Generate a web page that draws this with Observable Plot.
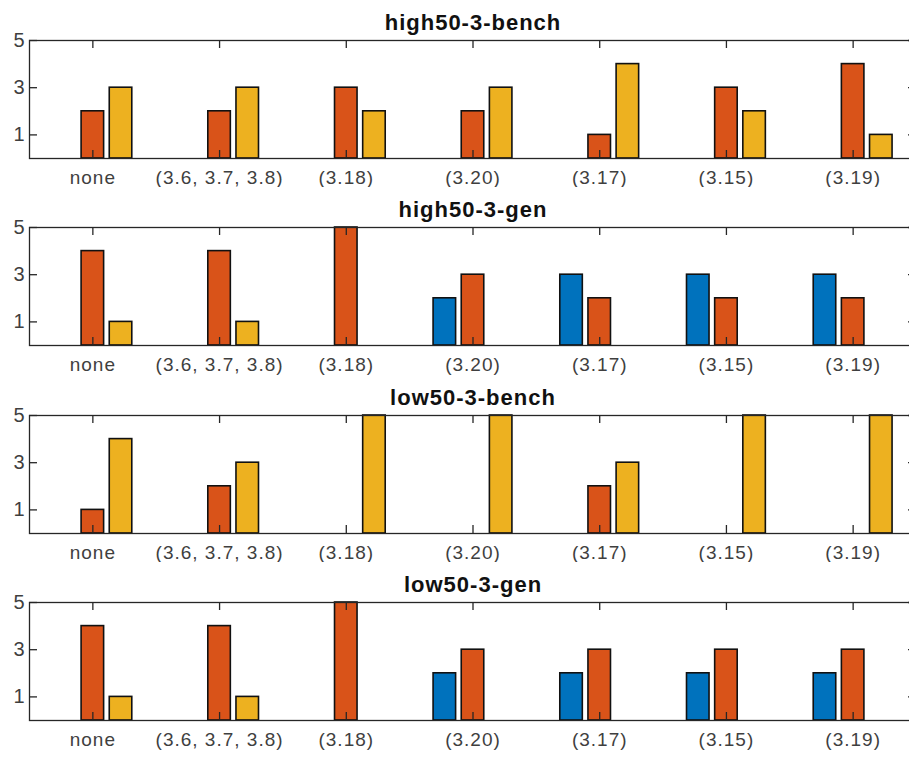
<!DOCTYPE html>
<html>
<head>
<meta charset="utf-8">
<script src="https://cdn.jsdelivr.net/npm/d3@7"></script>
<script src="https://cdn.jsdelivr.net/npm/@observablehq/plot@0.6"></script>
<style>
  html, body { margin: 0; background: #fff; overflow: hidden; }
  #wrap { position: relative; width: 909px; height: 757px; overflow: hidden; background: #fff; }
  .panel { position: absolute; left: 0; width: 925px; }
  .panel svg { max-width: none !important; width: 925px; height: 188px; }
  .panel svg text { letter-spacing: 1px; }
</style>
</head>
<body>
<div id="wrap"></div>
<script>
// ---- data ----
const categories = ["none", "(3.6, 3.7, 3.8)", "(3.18)", "(3.20)", "(3.17)", "(3.15)", "(3.19)"];
const seriesNames = ["series1", "series2", "series3"];
const seriesColors = ["#0072BD", "#D95319", "#EDB120"];
const panelTitles = ["high50-3-bench", "high50-3-gen", "low50-3-bench", "low50-3-gen"];
const yTicks = [1, 3, 5];

const high50BenchS1 = [0, 0, 0, 0, 0, 0, 0];
const high50BenchS2 = [2, 2, 3, 2, 1, 3, 4];
const high50BenchS3 = [3, 3, 2, 3, 4, 2, 1];

const high50GenS1 = [0, 0, 0, 2, 3, 3, 3];
const high50GenS2 = [4, 4, 5, 3, 2, 2, 2];
const high50GenS3 = [1, 1, 0, 0, 0, 0, 0];

const low50BenchS1 = [0, 0, 0, 0, 0, 0, 0];
const low50BenchS2 = [1, 2, 0, 0, 2, 0, 0];
const low50BenchS3 = [4, 3, 5, 5, 3, 5, 5];

const low50GenS1 = [0, 0, 0, 2, 2, 2, 2];
const low50GenS2 = [4, 4, 5, 3, 3, 3, 3];
const low50GenS3 = [1, 1, 0, 0, 0, 0, 0];

const panels = [
  [high50BenchS1, high50BenchS2, high50BenchS3],
  [high50GenS1, high50GenS2, high50GenS3],
  [low50BenchS1, low50BenchS2, low50BenchS3],
  [low50GenS1, low50GenS2, low50GenS3]
];

// ---- layout (MATLAB grouped bar geometry) ----
const nSeries = 3;
const groupWidth = Math.min(0.8, nSeries / (nSeries + 1.5));
const barW = 0.8 * groupWidth / nSeries;
const panelStep = 187.4;
const xPositions = categories.map((_, i) => i + 1);

const W = 925, H = 188, mT = 40, mB = 30, mL = 29, mR = 9;
const frameW = W - mL - mR, frameH = H - mT - mB, tickLen = 8;

const wrap = document.getElementById("wrap");

panels.forEach((seriesArrays, p) => {
  const rows = [];
  seriesArrays.forEach((vals, s) => {
    vals.forEach((v, i) => {
      if (v > 0) {
        const center = i + 1 + (s - (nSeries - 1) / 2) * groupWidth / nSeries;
        rows.push({series: seriesNames[s], cat: categories[i], x1: center - barW / 2, x2: center + barW / 2, v});
      }
    });
  });

  const tickStyle = {stroke: "#262626", strokeWidth: 1.3};
  const chart = Plot.plot({
    width: W,
    height: H,
    marginTop: mT,
    marginBottom: mB,
    marginLeft: mL,
    marginRight: mR,
    x: {domain: [0.5, 7.5], label: null},
    y: {domain: [0, 5], label: null},
    color: {domain: seriesNames, range: seriesColors},
    style: {fontFamily: "'Liberation Sans', Arial, Helvetica, sans-serif", fontSize: "19px", color: "#3f3f3f", background: "#fff", overflow: "visible"},
    marks: [
      Plot.rectY(rows, {x1: "x1", x2: "x2", y1: 0, y2: "v", fill: "series", stroke: "#111", strokeWidth: 1.6}),
      // tick labels
      Plot.axisX({anchor: "bottom", ticks: xPositions, tickFormat: (d) => categories[d - 1], tickSize: 0, tickPadding: 12, fontSize: 19, label: null}),
      Plot.axisY({anchor: "left", ticks: yTicks, tickFormat: (d) => String(d), tickSize: 0, tickPadding: 4, fontSize: 20, label: null}),
      // inward tick marks (MATLAB style, on all four sides)
      Plot.ruleX(xPositions, {x: (d) => d, insetBottom: frameH - tickLen, ...tickStyle}),
      Plot.ruleX(xPositions, {x: (d) => d, insetTop: frameH - tickLen, ...tickStyle}),
      Plot.ruleY(yTicks, {y: (d) => d, insetRight: frameW - tickLen, ...tickStyle}),
      Plot.ruleY(yTicks, {y: (d) => d, insetLeft: frameW - tickLen, ...tickStyle}),
      Plot.frame({stroke: "#262626", strokeWidth: 1.3}),
      Plot.text([panelTitles[p]], {text: (d) => d, frameAnchor: "top", lineAnchor: "bottom", dy: -11, fontSize: 22, fontWeight: "bold", fill: "#111"})
    ]
  });

  const div = document.createElement("div");
  div.className = "panel";
  div.style.top = Math.round(p * panelStep) + "px";
  div.appendChild(chart);
  wrap.appendChild(div);
});
</script>
</body>
</html>
